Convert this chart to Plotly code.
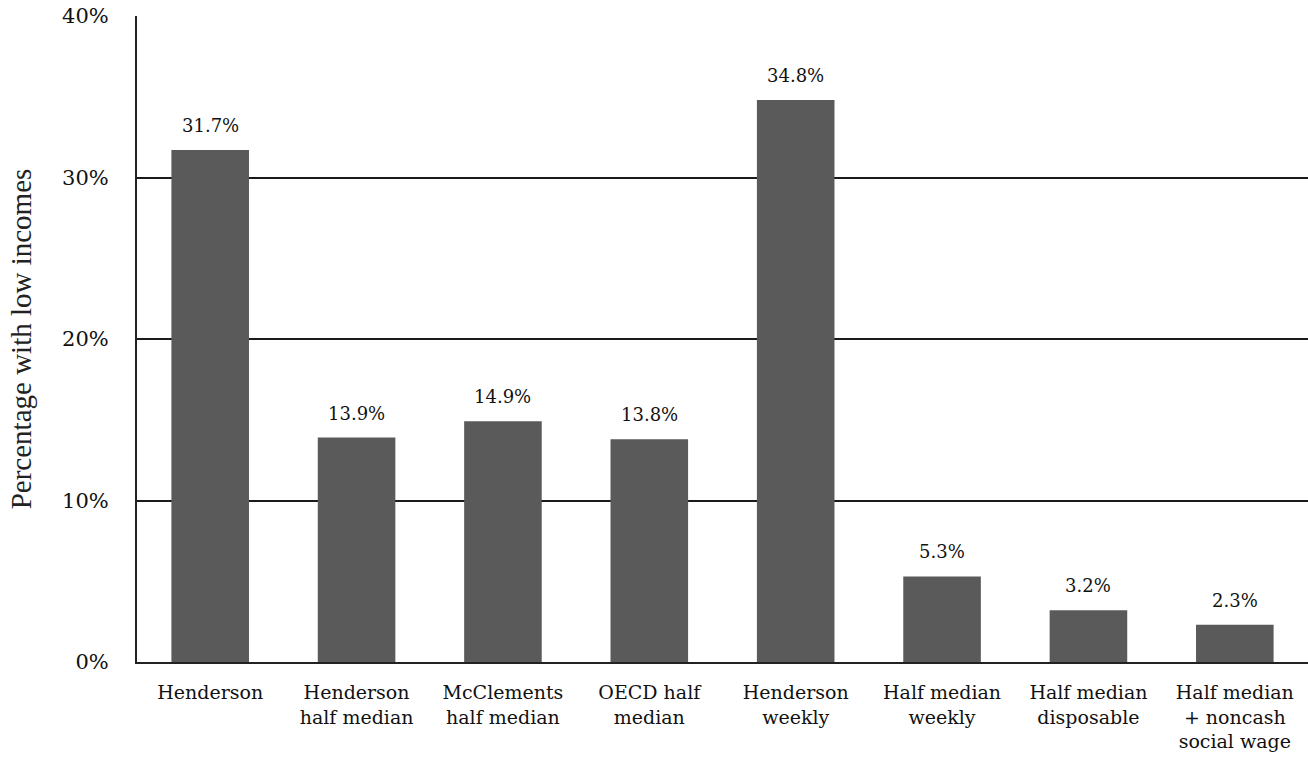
import plotly.graph_objects as go

categories = [
    "Henderson",
    "Henderson<br>half median",
    "McClements<br>half median",
    "OECD half<br>median",
    "Henderson<br>weekly",
    "Half median<br>weekly",
    "Half median<br>disposable",
    "Half median<br>+ noncash<br>social wage",
]
values = [31.7, 13.9, 14.9, 13.8, 34.8, 5.3, 3.2, 2.3]
value_labels = ["31.7%", "13.9%", "14.9%", "13.8%", "34.8%", "5.3%", "3.2%", "2.3%"]
y_ticks = [0, 10, 20, 30, 40]
y_tick_labels = ["0%", "10%", "20%", "30%", "40%"]

wide_serif = "DejaVu Serif, serif"
text_serif = "Liberation Serif, DejaVu Serif, serif"

fig = go.Figure()
fig.add_trace(go.Bar(
    x=categories,
    y=values,
    marker=dict(color="#5a5a5a", line=dict(width=0)),
    hoverinfo="skip",
))

# value labels above each bar
for cat, val, lab in zip(categories, values, value_labels):
    fig.add_annotation(
        x=cat, y=val, text=lab, showarrow=False,
        yanchor="bottom", yshift=12,
        font=dict(family=wide_serif, size=18, color="#111111"),
    )

fig.update_layout(
    width=1308, height=759,
    margin=dict(l=137, r=0, t=16, b=97),
    paper_bgcolor="white",
    plot_bgcolor="white",
    bargap=0.47,
    showlegend=False,
    font=dict(family=wide_serif, color="#111111"),
)

fig.update_xaxes(
    showgrid=False,
    showline=True, linecolor="#222222", linewidth=2,
    ticks="", ticklabelstandoff=12,
    tickfont=dict(family=wide_serif, size=19, color="#111111"),
)

fig.update_yaxes(
    range=[0, 40],
    tickvals=y_ticks, ticktext=y_tick_labels,
    showgrid=True, gridcolor="#1a1a1a", gridwidth=1.5,
    showline=True, linecolor="#222222", linewidth=2,
    zeroline=False,
    ticks="", ticklabelstandoff=22,
    tickfont=dict(family=wide_serif, size=21, color="#111111"),
    title=dict(text="Percentage with low incomes", standoff=22,
               font=dict(family=text_serif, size=29, color="#222222")),
)

fig.write_html("out.html")
